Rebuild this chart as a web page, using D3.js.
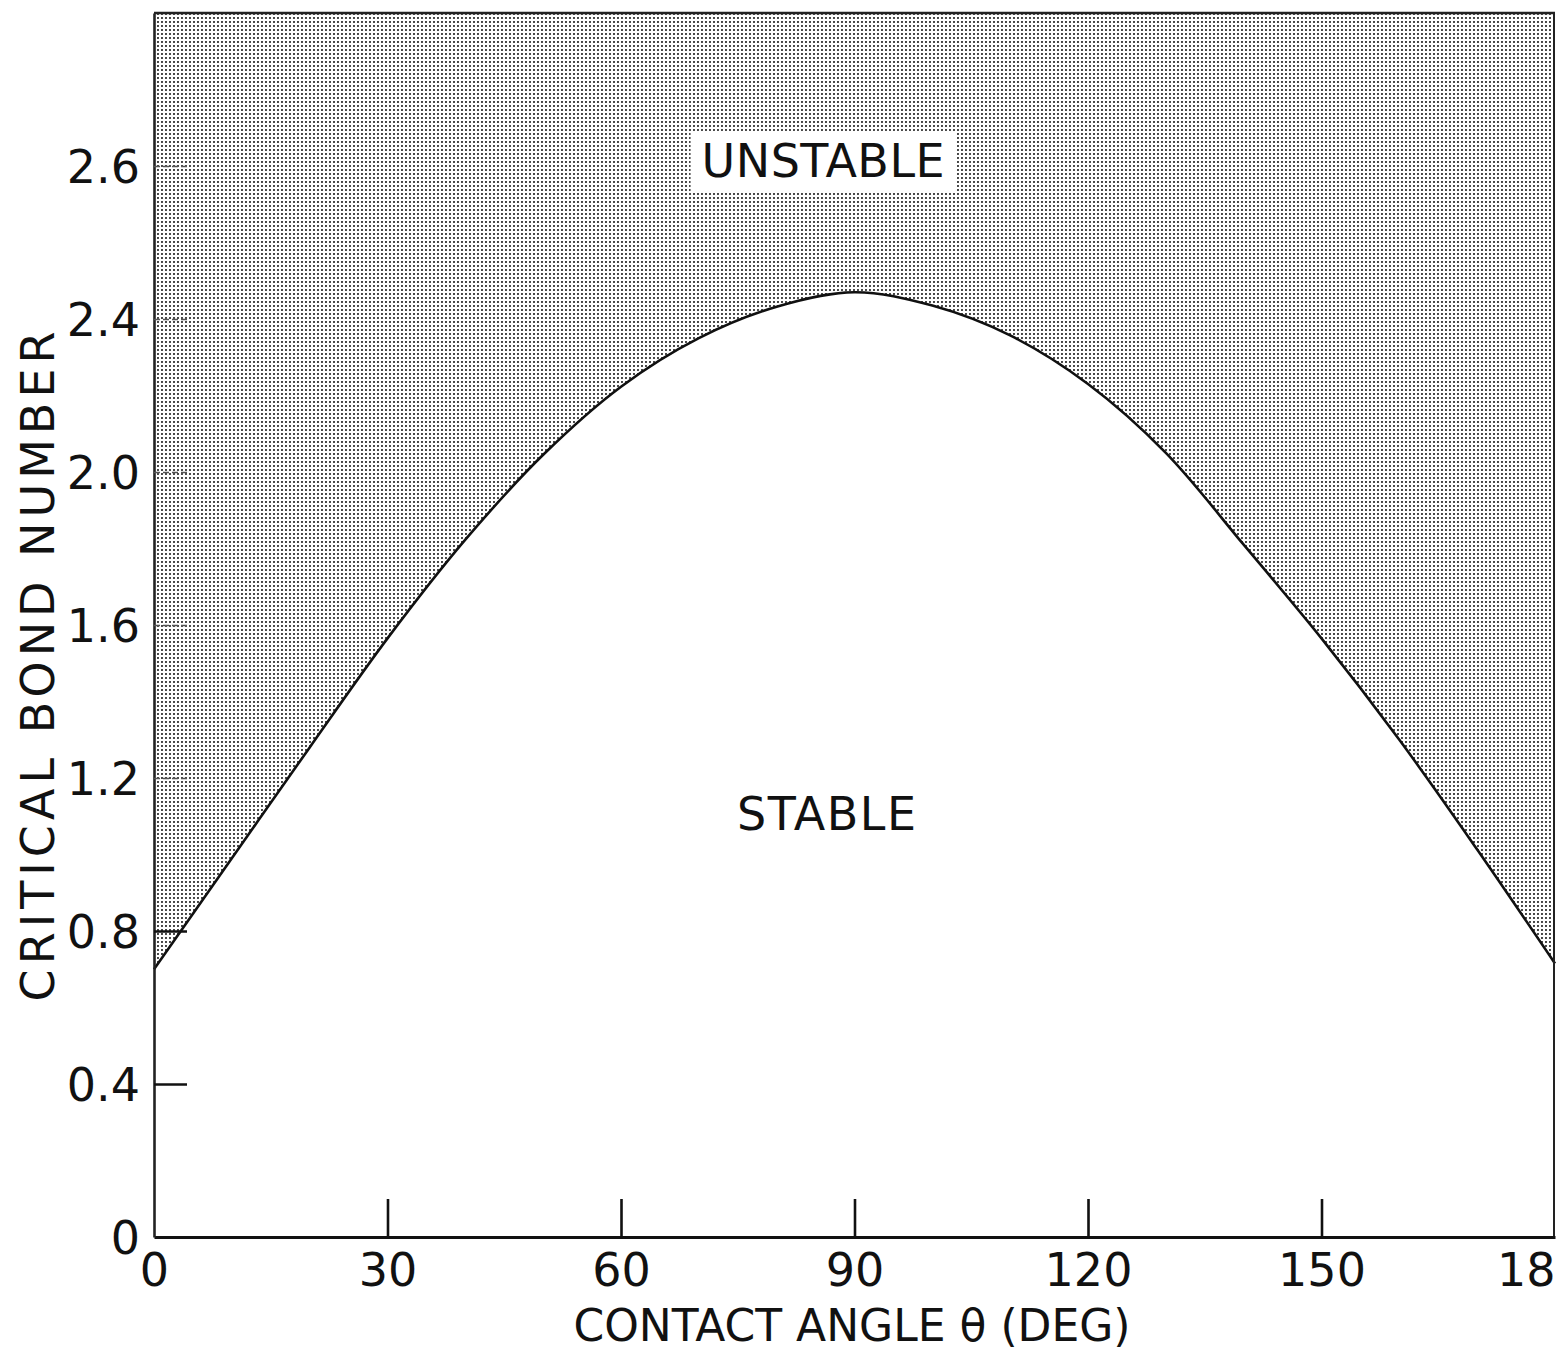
<!DOCTYPE html>
<html>
<head>
<meta charset="utf-8">
<script src="https://cdn.jsdelivr.net/npm/d3@7"></script>
<style>
  html, body { margin: 0; padding: 0; background: #fff; overflow: hidden; }
  svg { display: block; }
  text { font-family: "DejaVu Sans", sans-serif; fill: #111; }
</style>
</head>
<body>
<svg id="chart" width="1559" height="1353"></svg>
<script>
// ---- data ----
const contactAngle = [0, 10, 20, 30, 40, 50, 60, 70, 80, 90, 100, 110, 120, 130, 140, 150, 160, 170, 180];
const criticalBond = [0.70, 0.99, 1.28, 1.565, 1.823, 2.045, 2.223, 2.35, 2.432, 2.47, 2.435, 2.357, 2.23, 2.05, 1.81, 1.565, 1.30, 1.013, 0.715];
const xTickValues = [0, 30, 60, 90, 120, 150, 180];
const xTickLabels = ["0", "30", "60", "90", "120", "150", "18"];
const yTickValues = [0, 0.4, 0.8, 1.2, 1.6, 2.0, 2.4, 2.8];
const yTickLabels = ["0", "0.4", "0.8", "1.2", "1.6", "2.0", "2.4", "2.6"];
const xDomain = [0, 180];
const yDomain = [0, 3.2];
const xTitle = "CONTACT ANGLE \u03B8 (DEG)";
const yTitle = "CRITICAL BOND NUMBER";
const regionLabels = [{ text: "UNSTABLE", x: 86, y: 2.77, box: true }, { text: "STABLE", x: 86.5, y: 1.064, box: false }];

// ---- layout ----
const svg = d3.select("#chart");
const x = d3.scaleLinear().domain(xDomain).range([154, 1555]);
const y = d3.scaleLinear().domain(yDomain).range([1237, 13]);

// dot screen pattern
const defs = svg.append("defs");
const pat = defs.append("pattern")
  .attr("id", "dots").attr("patternUnits", "userSpaceOnUse")
  .attr("width", 4).attr("height", 4);
pat.append("circle").attr("cx", 2).attr("cy", 2).attr("r", 1.05).attr("fill", "#1a1a1a");

const pts = contactAngle.map((a, i) => ({ a, b: criticalBond[i] }));

const gPlot = svg.append("g");

// unstable region (above the curve)
const area = d3.area()
  .x(d => x(d.a))
  .y0(y(yDomain[1]))
  .y1(d => y(d.b))
  .curve(d3.curveCatmullRom);
gPlot.append("path").datum(pts).attr("d", area).attr("fill", "url(#dots)");

// curve
const line = d3.line().x(d => x(d.a)).y(d => y(d.b)).curve(d3.curveCatmullRom);
gPlot.append("path").datum(pts).attr("d", line)
  .attr("fill", "none").attr("stroke", "#111").attr("stroke-width", 2.6);

// frame: top and right borders
gPlot.append("line").attr("x1", x(0)).attr("x2", x(180)).attr("y1", y(yDomain[1])).attr("y2", y(yDomain[1]))
  .attr("stroke", "#222").attr("stroke-width", 2.5);
gPlot.append("line").attr("x1", x(180) - 1).attr("x2", x(180) - 1).attr("y1", y(yDomain[1])).attr("y2", y(0))
  .attr("stroke", "#222").attr("stroke-width", 2);

// x axis
const xAxis = d3.axisBottom(x)
  .tickValues(xTickValues)
  .tickFormat((d, i) => xTickLabels[i])
  .tickSize(-38).tickSizeOuter(0).tickPadding(16);
const gx = svg.append("g").attr("transform", `translate(0,${y(0)})`).call(xAxis);
gx.select(".domain").attr("stroke", "#111").attr("stroke-width", 3.2);
gx.selectAll(".tick line").attr("stroke", "#111").attr("stroke-width", 2.6)
  .attr("opacity", d => (d === 0 || d === 180) ? 0 : 1);
gx.selectAll(".tick text").attr("font-size", 46).attr("fill", "#111")
  .attr("font-family", "DejaVu Sans, sans-serif")
  .attr("text-anchor", d => d === 180 ? "end" : "middle");

// y axis
const yAxis = d3.axisLeft(y)
  .tickValues(yTickValues)
  .tickFormat((d, i) => yTickLabels[i])
  .tickSize(-33).tickSizeOuter(0).tickPadding(14);
const gy = svg.append("g").attr("transform", `translate(${x(0)},0)`).call(yAxis);
gy.select(".domain").attr("stroke", "#222").attr("stroke-width", 2.6);
gy.selectAll(".tick line")
  .attr("stroke", d => d >= 1.2 ? "#555" : "#111")
  .attr("stroke-width", d => d >= 1.2 ? 1.6 : 2.6)
  .attr("stroke-dasharray", d => d >= 1.2 ? "6,3" : null)
  .attr("opacity", d => d === 0 ? 0 : 1);
gy.selectAll(".tick text").attr("font-size", 46).attr("fill", "#111")
  .attr("font-family", "DejaVu Sans, sans-serif")
  .attr("dy", "0.36em");

// axis titles
svg.append("text")
  .attr("x", 852).attr("y", 1341)
  .attr("text-anchor", "middle")
  .attr("font-size", 44)
  .text(xTitle);
svg.append("text")
  .attr("transform", `translate(54,664) rotate(-90)`)
  .attr("text-anchor", "middle")
  .attr("font-size", 46)
  .attr("letter-spacing", 5)
  .text(yTitle);

// region labels
const gLabels = svg.append("g");
regionLabels.forEach(r => {
  const g = gLabels.append("g");
  const t = g.append("text")
    .attr("x", x(r.x)).attr("y", y(r.y))
    .attr("text-anchor", "middle")
    .attr("font-size", 46)
    .attr("letter-spacing", r.box ? 0.5 : 1.5)
    .text(r.text);
  if (r.box) {
    const bb = t.node().getBBox();
    g.insert("rect", () => t.node())
      .attr("x", bb.x - 11).attr("y", bb.y - 3)
      .attr("width", bb.width + 22).attr("height", bb.height + 6)
      .attr("fill", "#fff");
  }
});
</script>
</body>
</html>
